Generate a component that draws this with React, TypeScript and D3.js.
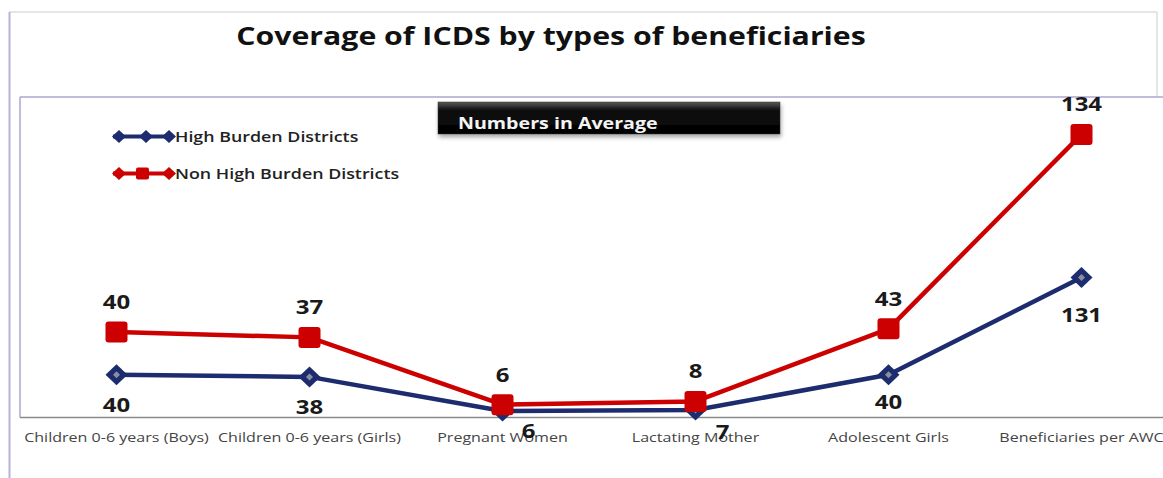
import React from "react";
import * as d3 from "d3";

const categories = [
  "Children 0-6 years (Boys)",
  "Children 0-6 years (Girls)",
  "Pregnant Women",
  "Lactating Mother",
  "Adolescent Girls",
  "Beneficiaries per AWC",
];
const highBurden = [40, 38, 6, 7, 40, 131];
const nonHighBurden = [40, 37, 6, 8, 43, 134];
const seriesNames = ["High Burden Districts", "Non High Burden Districts"];
const title = "Coverage of ICDS by types of beneficiaries";
const subtitle = "Numbers in Average";

// layout-only nudges for the blue (below) labels
const blueLabelDx = [0, 0, 26, 27, 0, 0];
const blueLabelDy = [30, 30, 20, 22, 27, 37];

const W = 1163;
const H = 478;
const BLUE = "#1c2c6e";
const RED = "#cc0000";
const FONT = "'Open Sans', Lato, sans-serif";
const SX = 1.2; // horizontal stretch of the reference's text

function T(props: {
  x: number;
  y: number;
  sx?: number;
  anchor?: string;
  size: number;
  weight?: number;
  fill: string;
  children: React.ReactNode;
}) {
  const { x, y, sx = SX, anchor = "start", size, weight = 400, fill, children } = props;
  return (
    <text
      transform={`translate(${x},${y}) scale(${sx},1)`}
      textAnchor={anchor as any}
      fontSize={size}
      fontWeight={weight}
      fill={fill}
    >
      {children}
    </text>
  );
}

export default function App() {
  const rows = categories.map((c, i) => ({
    cat: c,
    high: highBurden[i],
    non: nonHighBurden[i],
  }));
  const stack = d3.stack<any>().keys(["high", "non"]);
  const stacked = stack(rows);

  const x = d3.scalePoint<string>().domain(categories).range([20, 1178]).padding(0.5);
  const y = d3.scaleLinear().domain([0, 300]).range([417.5, 97]);

  const lineGen = d3
    .line<any>()
    .x((d) => x(d.data.cat) as number)
    .y((d) => y(d[1]));

  const blue = stacked[0];
  const red = stacked[1];

  const diamond = (cx: number, cy: number, rx: number, ry: number) =>
    `M${cx},${cy - ry} L${cx + rx},${cy} L${cx},${cy + ry} L${cx - rx},${cy} Z`;

  return (
    <svg
      width={W}
      height={H}
      style={{ position: "absolute", left: 0, top: 0, background: "#fff" }}
      fontFamily={FONT}
    >
      <defs>
        <linearGradient id="boxGrad" x1="0" y1="0" x2="0" y2="1">
          <stop offset="0" stopColor="#5a5a5a" />
          <stop offset="0.25" stopColor="#111" />
          <stop offset="1" stopColor="#000" />
        </linearGradient>
        <filter id="shadow" x="-5%" y="-30%" width="110%" height="170%">
          <feDropShadow dx="1" dy="3" stdDeviation="2" floodColor="#000" floodOpacity="0.35" />
        </filter>
      </defs>

      {/* outer frame */}
      <line x1={9.5} y1={12} x2={1157} y2={12} stroke="#dcdcdc" strokeWidth={1.5} />
      <line x1={1157} y1={12} x2={1157} y2={97} stroke="#dcdcdc" strokeWidth={1.5} />
      <line x1={9.5} y1={12} x2={9.5} y2={478} stroke="#b6b2dc" strokeWidth={2} />

      {/* title */}
      <T x={551} y={45} anchor="middle" size={25} weight={700} fill="#111" sx={1.21}>
        {title}
      </T>

      {/* plot frame */}
      <line x1={20} y1={97} x2={W} y2={97} stroke="#a9a7cf" strokeWidth={1.5} />
      <line x1={20} y1={97} x2={20} y2={y(0)} stroke="#a9a7cf" strokeWidth={1.5} />
      <line x1={20} y1={y(0)} x2={W} y2={y(0)} stroke="#8a8a8a" strokeWidth={1.5} />

      {/* subtitle box */}
      <g filter="url(#shadow)">
        <rect x={438} y={102} width={342} height={32} fill="url(#boxGrad)" stroke="#333" strokeWidth={0.5} />
      </g>
      <T x={458} y={129} size={16.5} weight={700} fill="#f4f4f4" sx={1.19}>
        {subtitle}
      </T>

      {/* legend */}
      <g>
        <line x1={113} y1={136.5} x2={172} y2={136.5} stroke={BLUE} strokeWidth={4} />
        {[119, 146, 169].map((cx) => (
          <path key={cx} d={diamond(cx, 136.5, 7, 6.5)} fill={BLUE} />
        ))}
        <T x={175} y={142} size={14.5} weight={600} fill="#222" sx={1.23}>
          {seriesNames[0]}
        </T>
        <line x1={113} y1={173.5} x2={172} y2={173.5} stroke={RED} strokeWidth={4} />
        {[119, 169].map((cx) => (
          <path key={cx} d={diamond(cx, 173.5, 7, 6.5)} fill={RED} />
        ))}
        <rect x={136} y={167.5} width={13} height={12} rx={2} fill={RED} />
        <T x={175} y={179} size={14.5} weight={600} fill="#222" sx={1.23}>
          {seriesNames[1]}
        </T>
      </g>

      {/* category labels */}
      {categories.map((c) => (
        <T key={c} x={x(c) as number} y={442} anchor="middle" size={13.5} fill="#444" sx={1.19}>
          {c}
        </T>
      ))}

      {/* blue series */}
      <path d={lineGen(blue) || ""} fill="none" stroke={BLUE} strokeWidth={4.5} strokeLinejoin="round" />
      {blue.map((d, i) => {
        const cx = x(d.data.cat) as number;
        const cy = y(d[1]);
        return (
          <g key={i}>
            <path d={diamond(cx, cy, 11, 10.5)} fill={BLUE} />
            <path d={diamond(cx, cy, 3.5, 3.5)} fill="#8a8f9e" />
          </g>
        );
      })}

      {/* red series */}
      <path d={lineGen(red) || ""} fill="none" stroke={RED} strokeWidth={4.5} strokeLinejoin="round" />
      {red.map((d, i) => {
        const cx = x(d.data.cat) as number;
        const cy = y(d[1]);
        return <rect key={i} x={cx - 11} y={cy - 10.5} width={22} height={21} rx={3} fill={RED} />;
      })}

      {/* labels */}
      {red.map((d, i) => (
        <T
          key={"r" + i}
          x={x(d.data.cat) as number}
          y={y(d[1]) - 23}
          anchor="middle"
          size={20}
          weight={700}
          fill="#1a1a1a"
        >
          {nonHighBurden[i]}
        </T>
      ))}
      {blue.map((d, i) => (
        <T
          key={"b" + i}
          x={(x(d.data.cat) as number) + blueLabelDx[i]}
          y={y(d[1]) + blueLabelDy[i] + 7}
          anchor="middle"
          size={20}
          weight={700}
          fill="#1a1a1a"
        >
          {highBurden[i]}
        </T>
      ))}
    </svg>
  );
}
